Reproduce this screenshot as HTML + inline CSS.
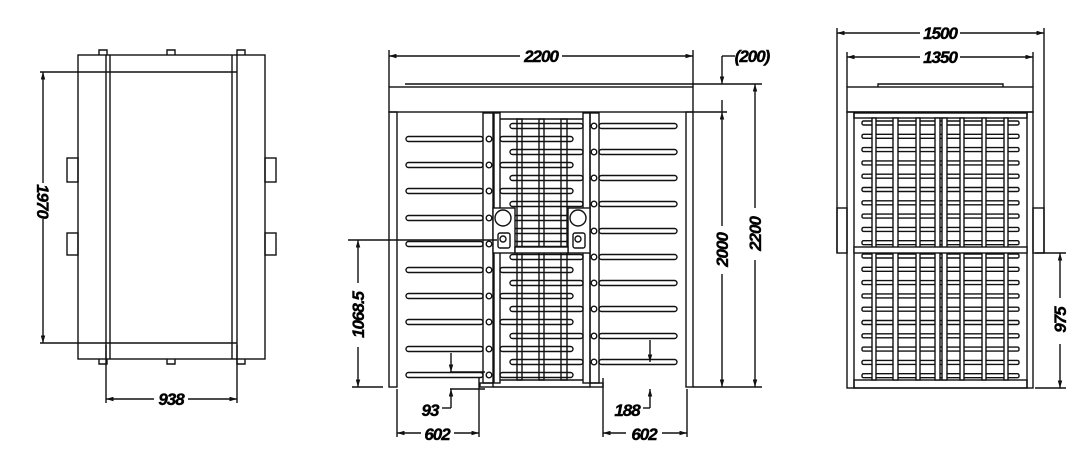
<!DOCTYPE html>
<html><head><meta charset="utf-8">
<style>
html,body{margin:0;padding:0;background:#fff;width:1080px;height:455px;overflow:hidden}
svg{display:block}
text{font-family:"Liberation Sans",sans-serif;font-style:italic;font-weight:bold;font-size:17px;letter-spacing:-1px;fill:#000;stroke:#000;stroke-width:0.4}
</style></head><body>
<svg id="s" width="1080" height="455" viewBox="0 0 1080 455" xmlns="http://www.w3.org/2000/svg">
<defs>
<marker id="a" viewBox="0 0 10 6" refX="10" refY="3" markerWidth="11" markerHeight="4.5" orient="auto-start-reverse" markerUnits="userSpaceOnUse"><path d="M0,0L10,3L0,6z" fill="#111"/></marker>
</defs>
<g id="g" fill="none" stroke="#111" stroke-width="1.4">
<!-- LEFT VIEW -->
<rect x="78" y="55" width="187" height="304"/>
<line x1="106" y1="55" x2="106" y2="359"/><line x1="110" y1="55" x2="110" y2="359"/>
<line x1="232" y1="55" x2="232" y2="359"/><line x1="237" y1="55" x2="237" y2="359"/>
<line x1="106" y1="72" x2="237" y2="72"/><line x1="106" y1="343" x2="237" y2="343"/>
<rect x="67" y="158" width="11" height="24"/><rect x="67" y="233" width="11" height="22"/>
<rect x="265" y="158" width="11" height="24"/><rect x="265" y="233" width="11" height="22"/>
<path d="M99,55v-5h8v5M167,55v-5h8v5M237,55v-5h8v5M99,359v5h8v-5M167,359v5h8v-5M237,359v5h8v-5"/>
<line x1="40" y1="72" x2="106" y2="72"/><line x1="40" y1="343" x2="106" y2="343"/>
<line x1="43" y1="72" x2="43" y2="183" marker-start="url(#a)"/><line x1="43" y1="219" x2="43" y2="343" marker-end="url(#a)"/>
<line x1="106" y1="345" x2="106" y2="403"/><line x1="237" y1="345" x2="237" y2="403"/>
<line x1="106" y1="399" x2="154" y2="399" marker-start="url(#a)"/><line x1="188" y1="399" x2="237" y2="399" marker-end="url(#a)"/>

<!-- MIDDLE VIEW -->
<line x1="389" y1="56" x2="520" y2="56" marker-start="url(#a)"/><line x1="562" y1="56" x2="693" y2="56" marker-end="url(#a)"/>
<line x1="389" y1="50" x2="389" y2="87"/><line x1="693" y1="50" x2="693" y2="87"/>
<rect x="389" y="87" width="304" height="25"/>
<line x1="405" y1="84" x2="678" y2="84"/>
<rect x="389" y="112" width="8" height="275"/><rect x="686" y="112" width="7" height="275"/>
<rect x="483" y="113" width="10" height="270"/><rect x="494" y="113" width="6" height="270"/>
<rect x="583" y="113" width="7" height="270"/><rect x="590" y="113" width="9" height="270"/>
<line x1="500" y1="119" x2="583" y2="119"/>
<rect x="517" y="119" width="5" height="261"/><rect x="539" y="119" width="5" height="261"/><rect x="561" y="119" width="6" height="261"/>
<line x1="500" y1="380" x2="583" y2="380"/>
<rect x="480" y="383" width="13" height="4"/><rect x="590" y="383" width="13" height="4"/>
<line x1="493" y1="387" x2="590" y2="387"/>
<rect x="493" y="208" width="22" height="45" fill="#fff"/><rect x="568" y="208" width="22" height="45" fill="#fff"/>
<circle cx="503" cy="218" r="8"/><circle cx="578" cy="218" r="8"/>
<rect x="498" y="233" width="12" height="15" rx="2"/><rect x="573" y="233" width="12" height="15" rx="2"/>
<circle cx="503" cy="239" r="3"/><circle cx="578" cy="239" r="3"/>
<rect x="515" y="247" width="53" height="6" fill="#fff"/>
<line x1="348" y1="240" x2="497" y2="240"/>
<line x1="358" y1="240" x2="358" y2="283" marker-start="url(#a)"/><line x1="358" y1="347" x2="358" y2="387" marker-end="url(#a)"/>
<line x1="352" y1="387" x2="383" y2="387"/>
<line x1="693" y1="112" x2="727" y2="112"/><line x1="678" y1="84" x2="762" y2="84"/><line x1="693" y1="387" x2="762" y2="387"/>
<line x1="722" y1="112" x2="722" y2="226" marker-start="url(#a)"/><line x1="722" y1="274" x2="722" y2="387" marker-end="url(#a)"/>
<line x1="755" y1="84" x2="755" y2="208" marker-start="url(#a)"/><line x1="755" y1="260" x2="755" y2="387" marker-end="url(#a)"/>
<line x1="722" y1="56" x2="735" y2="56"/><line x1="722" y1="56" x2="722" y2="84" marker-end="url(#a)"/><line x1="722" y1="112" x2="722" y2="100"/>
<line x1="397" y1="389" x2="397" y2="437"/><line x1="479" y1="378" x2="479" y2="437"/>
<line x1="397" y1="433" x2="421" y2="433" marker-start="url(#a)"/><line x1="454" y1="433" x2="479" y2="433" marker-end="url(#a)"/>
<line x1="603" y1="378" x2="603" y2="437"/><line x1="687" y1="389" x2="687" y2="437"/>
<line x1="603" y1="433" x2="626" y2="433" marker-start="url(#a)"/><line x1="662" y1="433" x2="687" y2="433" marker-end="url(#a)"/>
<line x1="451" y1="353" x2="451" y2="372" marker-end="url(#a)"/><line x1="450" y1="372" x2="485" y2="372"/>
<line x1="451" y1="408" x2="451" y2="389" marker-end="url(#a)"/><line x1="442" y1="408" x2="451" y2="408"/><line x1="450" y1="389" x2="485" y2="389"/>
<line x1="650" y1="340" x2="650" y2="362" marker-end="url(#a)"/>
<line x1="650" y1="408" x2="650" y2="389" marker-end="url(#a)"/><line x1="643" y1="408" x2="650" y2="408"/>

<!-- RIGHT VIEW -->
<line x1="837" y1="33" x2="920" y2="33" marker-start="url(#a)"/><line x1="960" y1="33" x2="1044" y2="33" marker-end="url(#a)"/>
<line x1="847" y1="57" x2="920" y2="57" marker-start="url(#a)"/><line x1="960" y1="57" x2="1033" y2="57" marker-end="url(#a)"/>
<line x1="837" y1="28" x2="837" y2="253"/><line x1="1044" y1="28" x2="1044" y2="253"/>
<line x1="847" y1="52" x2="847" y2="87"/><line x1="1033" y1="52" x2="1033" y2="87"/>
<rect x="847" y="87" width="186" height="25"/><path d="M878,87v-3h125v3"/>
<rect x="847" y="112" width="186" height="276"/>
<line x1="854" y1="112" x2="854" y2="388"/><line x1="1027" y1="112" x2="1027" y2="388"/>
<rect x="854" y="113" width="173" height="5"/><rect x="854" y="380" width="173" height="8"/>
<rect x="837" y="208" width="10" height="45"/><rect x="1033" y="208" width="11" height="45"/>
<line x1="1035" y1="253" x2="1066" y2="253"/><line x1="1035" y1="388" x2="1066" y2="388"/>
<line x1="1060" y1="253" x2="1060" y2="298" marker-start="url(#a)"/><line x1="1060" y1="344" x2="1060" y2="388" marker-end="url(#a)"/>
</g>
<g>
<text x="171" y="405" text-anchor="middle">938</text>
<text transform="translate(37,201) rotate(90)" text-anchor="middle">1970</text>
<text x="541" y="62" text-anchor="middle">2200</text>
<text x="752" y="62" text-anchor="middle">(200)</text>
<text transform="translate(364,315) rotate(-90)" text-anchor="middle">1068.5</text>
<text transform="translate(728,250) rotate(-90)" text-anchor="middle">2000</text>
<text transform="translate(761,234) rotate(-90)" text-anchor="middle">2200</text>
<text x="430" y="416" text-anchor="middle">93</text>
<text x="627" y="416" text-anchor="middle">188</text>
<text x="437" y="440" text-anchor="middle">602</text>
<text x="644" y="440" text-anchor="middle">602</text>
<text x="940" y="39" text-anchor="middle">1500</text>
<text x="940" y="63" text-anchor="middle">1350</text>
<text transform="translate(1066,320) rotate(-90)" text-anchor="middle">975</text>
</g>
</svg>
<script>
var g=document.getElementById('g'),N='http://www.w3.org/2000/svg';
function r(x,y,w,h,rx,fill){var e=document.createElementNS(N,'rect');e.setAttribute('x',x);e.setAttribute('y',y);e.setAttribute('width',w);e.setAttribute('height',h);if(rx)e.setAttribute('rx',rx);if(fill)e.setAttribute('fill',fill);g.insertBefore(e,g.firstChild);return e;}
function c(x,y){var e=document.createElementNS(N,'circle');e.setAttribute('cx',x);e.setAttribute('cy',y);e.setAttribute('r',2.8);e.setAttribute('fill','#fff');g.appendChild(e);}
var L=[139,165,191,218,244,270,296,322,349,375],R=[126,152,178,204,231,257,283,309,336,362];
L.forEach(function(y){r(500,y-2.5,73,5,2.5);r(406,y-2.5,77,5,2.5,'#fff');c(489,y);});
R.forEach(function(y){r(510,y-2.5,73,5,2.5);r(599,y-2.5,78,5,2.5,'#fff');c(594,y);});
for(var i=0;i<20;i++){var y=123+i*13.3;if(y>244&&y<256)continue;r(862,y-2,157,4,1.5);}
[[872,4],[893,5],[916,4],[935,5],[942,5],[960,4],[982,4],[1004,4]].forEach(function(b){var e=r(b[0],118,b[1],262,0,'#fff');g.appendChild(e);});
var m=r(854,247,173,6,0,'#fff');g.appendChild(m);
</script>
</body></html>
